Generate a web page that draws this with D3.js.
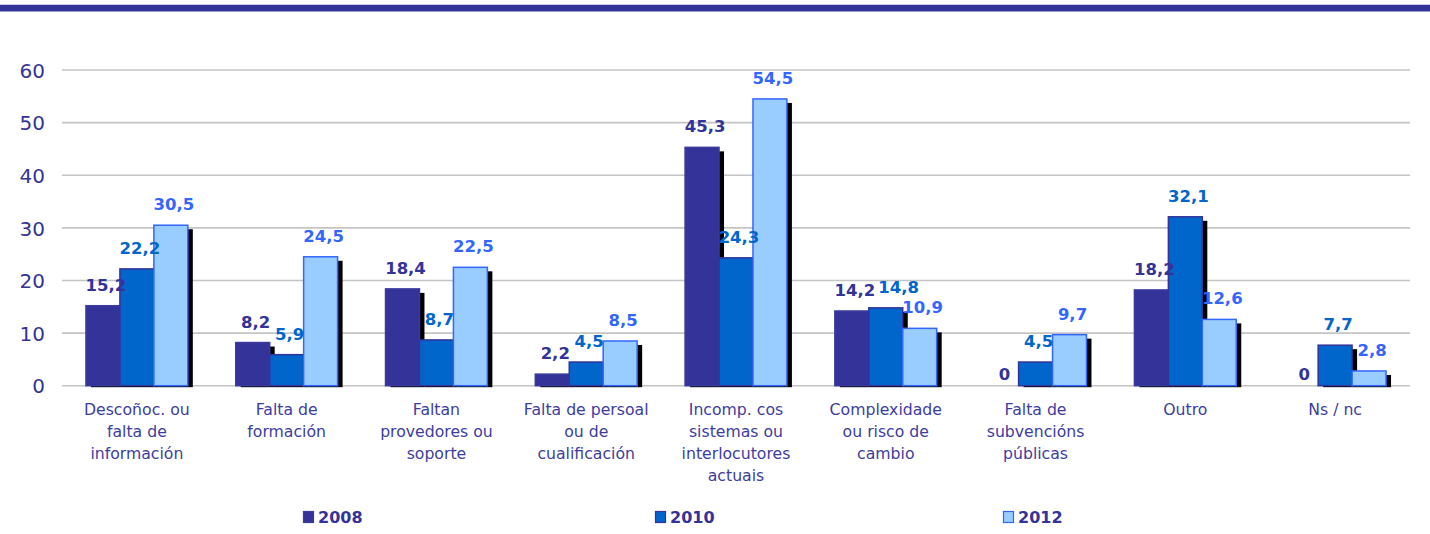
<!DOCTYPE html>
<html><head><meta charset="utf-8">
<script src="https://cdn.jsdelivr.net/npm/d3@7"></script>
<style>html,body{margin:0;padding:0;background:#fff;}svg{display:block;}</style>
</head><body>
<script>
const categories = [
  ["Descoñoc. ou","falta de","información"],
  ["Falta de","formación"],
  ["Faltan","provedores ou","soporte"],
  ["Falta de persoal","ou de","cualificación"],
  ["Incomp. cos","sistemas ou","interlocutores","actuais"],
  ["Complexidade","ou risco de","cambio"],
  ["Falta de","subvencións","públicas"],
  ["Outro"],
  ["Ns / nc"]
];
const seriesNames = ["2008","2010","2012"];
const v2008 = [15.2, 8.2, 18.4, 2.2, 45.3, 14.2, 0, 18.2, 0];
const v2010 = [22.2, 5.9, 8.7, 4.5, 24.3, 14.8, 4.5, 32.1, 7.7];
const v2012 = [30.5, 24.5, 22.5, 8.5, 54.5, 10.9, 9.7, 12.6, 2.8];
const yTicks = [0, 10, 20, 30, 40, 50, 60];

const fills = ["#333399", "#0066CC", "#99CCFF"];
const strokes = ["#3b3b9e", "#333399", "#3366FF"];
const labelColors = ["#333399", "#0066CC", "#3366FF"];
const series = [v2008, v2010, v2012];

const W = 1430, H = 534;
const svg = d3.select("body").append("svg").attr("width", W).attr("height", H);

// top band
svg.append("rect").attr("x", 0).attr("y", 4).attr("width", W).attr("height", 1.5).attr("fill", "#c9cbe6");
svg.append("rect").attr("x", 0).attr("y", 5).attr("width", W).attr("height", 6.5).attr("fill", "#333399");

const x0 = d3.scaleBand().domain(d3.range(categories.length)).range([62, 1410]).paddingInner(0.32).paddingOuter(0.16);
const x1 = d3.scaleBand().domain(d3.range(3)).range([0, x0.bandwidth()]);
const y = d3.scaleLinear().domain([0, 60]).range([385.7, 70]);

// gridlines
svg.append("g").selectAll("line").data(yTicks).join("line")
  .attr("x1", 62).attr("x2", 1410)
  .attr("y1", d => y(d)).attr("y2", d => y(d))
  .attr("stroke", "#c4c4c4").attr("stroke-width", 1.6);

// y axis labels
const yAxis = d3.axisLeft(y).tickValues(yTicks).tickSize(0).tickPadding(0).tickFormat(d3.format("d"));
const ya = svg.append("g").attr("transform", "translate(45,0)").call(yAxis);
ya.select(".domain").remove();
ya.selectAll("text").attr("font-family", "DejaVu Sans, Verdana, sans-serif").attr("font-size", 20).attr("fill", "#333399").attr("dy", "0.36em");

// bars
const groups = svg.append("g").selectAll("g").data(categories.map((c, i) => i)).join("g")
  .attr("transform", i => `translate(${x0(i)},0)`);

groups.each(function(ci) {
  const g = d3.select(this);
  series.forEach((s, si) => {
    const v = s[ci];
    if (v <= 0) return;
    const bx = x1(si), bw = x1.bandwidth();
    g.append("rect").attr("x", bx + 5).attr("y", y(v) + 4).attr("width", bw).attr("height", y(0) - y(v) - 2.5).attr("fill", "#000");
    g.append("rect").attr("x", bx).attr("y", y(v)).attr("width", bw).attr("height", y(0) - y(v))
      .attr("fill", fills[si]).attr("stroke", strokes[si]).attr("stroke-width", 1.5);
  });
});

// labels (after bars so they are on top), with simple collision avoidance
groups.each(function(ci) {
  const g = d3.select(this);
  let prev = null;
  series.forEach((s, si) => {
    const v = s[ci];
    const t = g.append("text").attr("x", x1(si) + x1.bandwidth() / 2 + 3).attr("y", y(v) - (v <= 0 ? 6 : 15))
      .attr("text-anchor", "middle")
      .attr("font-family", "DejaVu Sans, Verdana, sans-serif").attr("font-weight", "bold").attr("font-size", 16.5)
      .attr("fill", labelColors[si])
      .text(String(v).replace(".", ","));
    let b = t.node().getBBox();
    if (prev) {
      const vOverlap = b.y < prev.y + prev.height - 3 && b.y + b.height - 3 > prev.y;
      if (vOverlap && b.x < prev.x + prev.width + 3) {
        const shift = prev.x + prev.width + 3 - b.x;
        t.attr("x", +t.attr("x") + shift);
        b = t.node().getBBox();
      }
    }
    prev = b;
  });
});

// category labels
const cl = svg.append("g").selectAll("text").data(categories).join("text")
  .attr("x", (d, i) => x0(i) + x0.bandwidth() / 2)
  .attr("y", 414.5)
  .attr("text-anchor", "middle")
  .attr("font-family", "DejaVu Sans, Verdana, sans-serif").attr("font-size", 15.7)
  .attr("fill", "#3d3d9e");
cl.each(function(lines) {
  const t = d3.select(this);
  lines.forEach((ln, k) => {
    t.append("tspan").attr("x", t.attr("x")).attr("dy", k === 0 ? 0 : 22).text(ln);
  });
});

// legend
const legX = [303, 655, 1003];
const leg = svg.append("g").selectAll("g").data(seriesNames).join("g")
  .attr("transform", (d, i) => `translate(${legX[i]},511)`);
leg.append("rect").attr("x", 0.5).attr("y", 0.5).attr("width", 10).attr("height", 11)
  .attr("fill", (d, i) => fills[i]).attr("stroke", (d, i) => strokes[i]).attr("stroke-width", 1.2);
leg.append("text").attr("x", 15).attr("y", 12)
  .attr("font-family", "DejaVu Sans, Verdana, sans-serif").attr("font-weight", "bold").attr("font-size", 16)
  .attr("fill", "#333399").text(d => d);
</script>
</body></html>
